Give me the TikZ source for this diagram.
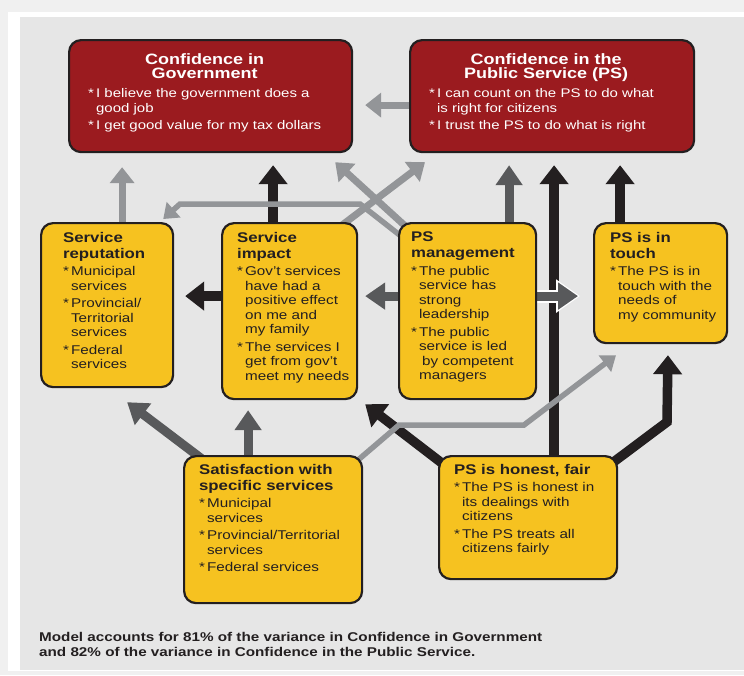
\documentclass[tikz,border=0pt]{standalone}
\usepackage{fontspec}
\setmainfont{Liberation Sans}[FakeStretch=1.2]
\usetikzlibrary{arrows.meta,backgrounds}
\definecolor{page}{HTML}{F0F0F0}
\definecolor{panel}{HTML}{E6E6E6}
\definecolor{ink}{HTML}{231F20}
\definecolor{boxred}{HTML}{9B1B1F}
\definecolor{boxyel}{HTML}{F6C220}
\definecolor{dgrey}{HTML}{58595B}
\definecolor{lgrey}{HTML}{939598}
\newcommand{\itm}[1]{\par\vspace{3pt}\hangindent=8pt\hangafter=1\noindent\makebox[8pt][l]{*}#1}
\newcommand{\boxtxt}[4]{\makebox[#1][l]{\hspace*{#2}\parbox[c][#3][t]{\dimexpr#1-#2-3pt\relax}{\raggedright#4}}}
\newcommand{\rtitle}[2]{{\centering\fontsize{15}{14}\selectfont\bfseries
  \hspace*{-28pt}#1\\\hspace*{-28pt}#2\par}\vspace{1.5pt}}
\newcommand{\ytitle}[1]{{\fontsize{14}{16}\selectfont\bfseries#1\par}}
\begin{document}
\begin{tikzpicture}[x=1pt,y=-1pt,
  rbox/.style={draw=ink,fill=boxred,text=white,line width=2.2pt,rounded corners=12pt,
    anchor=north west,inner xsep=0pt,inner ysep=14pt,font=\fontsize{12.5}{14.5}\selectfont},
  ybox/.style={draw=ink,fill=boxyel,text=ink,line width=2.2pt,rounded corners=12pt,
    anchor=north west,inner xsep=0pt,inner ysep=9pt,font=\fontsize{12.7}{14.5}\selectfont},
  blk/.style={draw=ink,line width=9.5pt,-{Triangle[width=28pt,length=19pt]}},
  dgry/.style={draw=dgrey,line width=9pt,-{Triangle[width=26pt,length=20pt]}},
  lgry/.style={draw=lgrey,line width=7pt,-{Triangle[width=24pt,length=16pt]}},
  lgrythin/.style={draw=lgrey,line width=5.5pt,-{Triangle[width=20pt,length=14pt]}}]
  \useasboundingbox (0,0) rectangle (744,675);

  \node[rbox] (cgov) at (68,39) {\boxtxt{283pt}{19pt}{84pt}{%
    \rtitle{Confidence in}{Government}%
    \itm{I believe the government does a\newline good job}%
    \itm{I get good value for my tax dollars}}};
  \node[rbox] (cps) at (409,39) {\boxtxt{284pt}{19pt}{84pt}{%
    \rtitle{Confidence in the}{Public Service (PS)}%
    \itm{I can count on the PS to do what\newline is right for citizens}%
    \itm{I trust the PS to do what is right}}};

  \node[ybox] (srep) at (40,222) {\boxtxt{132pt}{22pt}{146pt}{%
    \ytitle{Service\\reputation}%
    \itm{Municipal\newline services}%
    \itm{Provincial/\newline Territorial\newline services}%
    \itm{Federal\newline services}}};
  \node[ybox] (simp) at (221,222) {\boxtxt{135pt}{15pt}{158pt}{%
    \ytitle{Service\\impact}%
    \itm{Gov't services\newline have had a\newline positive effect\newline on me and\newline my family}%
    \itm{The services I\newline get from gov't\newline meet my needs}}};
  \node[ybox] (psm) at (398,222) {\boxtxt{137pt}{12pt}{158pt}{%
    \ytitle{PS\\management}%
    \itm{The public\newline service has\newline strong\newline leadership}%
    \itm{The public\newline service is led\newline\hspace*{3pt}by competent\newline managers}}};
  \node[ybox] (touch) at (593,222) {\boxtxt{133pt}{16pt}{102pt}{%
    \ytitle{PS is in\\touch}%
    \itm{The PS is in\newline touch with the\newline needs of\newline my community}}};

  \node[ybox,inner ysep=8pt] (sat) at (183,455) {\boxtxt{178pt}{15pt}{131pt}{%
    \ytitle{Satisfaction with\\specific services}%
    \itm{Municipal\newline services}%
    \itm{Provincial/Territorial\newline services}%
    \itm{Federal services}}};
  \node[ybox,inner ysep=8pt] (honest) at (438,455) {\boxtxt{178pt}{15pt}{107pt}{%
    \ytitle{PS is honest, fair}%
    \itm{The PS is honest in\newline its dealings with\newline citizens}%
    \itm{The PS treats all\newline citizens fairly}}};

  \node[anchor=north west,align=left,inner sep=0pt,text=ink,
    font=\fontsize{12.7}{15}\selectfont\bfseries] (note) at (39,632)
    {Model accounts for 81\% of the variance in Confidence in Government\\
     and 82\% of the variance in Confidence in the Public Service.};

  \begin{scope}[on background layer]
    \fill[page] (0,0) rectangle (744,675);
    \fill[white] (8,12) rectangle (744,671);
    \fill[panel] (20,17) rectangle (744,670);
    % up to the top row
    \draw[lgry,shorten >=12pt] ([yshift=-9pt]cps.west) -- ([yshift=-9pt]cps.west -| cgov.east);
    \draw[blk,shorten >=12pt] ([xshift=-16.5pt]simp.north) -- ([xshift=-16.5pt]simp.north |- cgov.south);
    \draw[lgry,shorten >=14pt] ([xshift=15pt]srep.north) -- ([xshift=15pt]srep.north |- cgov.south);
    \draw[blk,shorten >=12pt] ([xshift=26pt]honest.north) -- ([xshift=26pt]honest.north |- cps.south);
    \draw[dgry,shorten >=12pt] ([xshift=41.5pt]psm.north) -- ([xshift=41.5pt]psm.north |- cps.south);
    \draw[blk,shorten >=12pt] ([xshift=-40.5pt]touch.north) -- ([xshift=-40.5pt]touch.north |- cps.south);
    \draw[lgry] ([xshift=-20pt,yshift=-6pt]simp.north east) -- ([xshift=16pt,yshift=-9pt]cps.south west);
    \draw[lgry] ([xshift=16pt,yshift=-12pt]psm.north west) -- ([xshift=-18pt,yshift=-9pt]cgov.south east);
    \draw[lgrythin] ([xshift=8pt,yshift=-18pt]psm.north west) -- (360,204) -- (180,204)
      -- ([xshift=-11pt,yshift=3pt]srep.north east);
    % middle row
    \draw[blk,shorten >=11pt] ([yshift=15pt]simp.west) -- ([yshift=15pt]simp.west -| srep.east);
    \draw[dgry,shorten >=7pt] ([yshift=15pt]psm.west) -- ([yshift=15pt]psm.west -| simp.east);
    \draw[white,line width=13pt,-{Triangle[width=32pt,length=24pt]},shorten >=13pt]
      ([yshift=15pt]psm.east) -- ([yshift=15pt]psm.east -| touch.west);
    \draw[dgry,shorten >=15pt] ([yshift=15pt]psm.east) -- ([yshift=15pt]psm.east -| touch.west);
    % from the bottom row
    \draw[blk] ([xshift=9pt,yshift=-12pt]honest.north west) -- ([xshift=7pt,yshift=-4pt]simp.south east);
    \draw[blk,shorten >=11pt] ([xshift=-10pt,yshift=-11pt]honest.north east) -- (667,422)
      -- ([xshift=7.5pt]touch.south);
    \draw[dgry] ([xshift=23pt,yshift=-7pt]sat.north west) -- ([xshift=20pt,yshift=-14pt]srep.south);
    \draw[dgry,shorten >=10pt] ([xshift=-25pt]sat.north) -- ([xshift=-25pt]sat.north |- simp.south);
    \draw[lgrythin] ([xshift=-11pt,yshift=-10pt]sat.north east) -- (399,425) -- (524,425)
      -- ([xshift=23pt,yshift=-11pt]touch.south west);
  \end{scope}
\end{tikzpicture}
\end{document}
